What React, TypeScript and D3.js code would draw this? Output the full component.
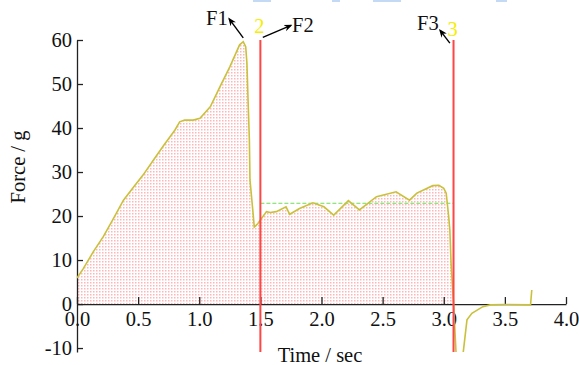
import React, { useRef, useEffect } from 'react';
import * as d3 from 'd3';

// force trace (time in sec, force in g)
const times = [0.0, 0.05, 0.134, 0.215, 0.3, 0.38, 0.46, 0.54, 0.62, 0.71, 0.8, 0.84, 0.88, 0.95, 1.006, 1.09, 1.17, 1.25, 1.33, 1.36, 1.38, 1.39, 1.4, 1.41, 1.415, 1.44, 1.45, 1.48, 1.5, 1.55, 1.58, 1.63, 1.71, 1.74, 1.82, 1.93, 2.02, 2.1, 2.22, 2.31, 2.45, 2.61, 2.72, 2.78, 2.91, 2.96, 3.0, 3.02, 3.04, 3.05, 3.06, 3.08, 3.1, 3.12, 3.15, 3.16, 3.19, 3.23, 3.32, 3.38, 3.5, 3.71, 3.72];
const forces = [5.9, 8.0, 11.9, 15.3, 19.5, 23.6, 26.5, 29.3, 32.5, 36.1, 39.5, 41.4, 41.8, 41.8, 42.2, 44.8, 49.4, 53.9, 58.9, 59.6, 58.5, 54.7, 45.7, 37.3, 28.2, 20.7, 17.5, 18.3, 19.1, 21, 20.8, 21, 22.1, 20.4, 21.7, 23.0, 22.1, 20.2, 23.5, 21.4, 24.4, 25.5, 23.6, 25.2, 26.9, 27, 26.3, 25.2, 20, 16.8, 9.2, 0.2, -10.8, -14, -14, -10.8, -3.6, -2.1, -0.6, -0.2, -0.1, -0.2, 3.2];

const xTicks = [0, 0.5, 1, 1.5, 2, 2.5, 3, 3.5, 4];
const yTicks = [-10, 0, 10, 20, 30, 40, 50, 60];

const markerTimes = [1.5, 3.08];
const markerLabels = ['2', '3'];
const meanForce = 22.9;

// F1 / F2 / F3 callouts: arrow tail (t0, f0) to head (t1, f1)
const callouts = [
  { label: 'F1', t0: 1.36, f0: 60.5, t1: 1.245, f1: 64.8 },
  { label: 'F2', t0: 1.52, f0: 60.6, t1: 1.75, f1: 63.3 },
  { label: 'F3', t0: 3.05, f0: 59.3, t1: 2.97, f1: 62.2 },
];

const blueBits = [[253, 271], [332, 340], [373, 401], [496, 507]];

export default function App() {
  const svgRef = useRef<SVGSVGElement>(null);

  useEffect(() => {
    const svg = d3.select(svgRef.current);
    svg.selectAll('*').remove();

    const x = d3.scaleLinear().domain([0, 4]).range([77, 566]);
    const y = d3.scaleLinear().domain([-10.9, 60]).range([352, 40]);
    const font = '"Liberation Serif", "Times New Roman", serif';
    const fs = 20.5;
    const data = times.map((t, i) => ({ t, f: forces[i] }));

    const defs = svg.append('defs');
    const pat = defs.append('pattern')
      .attr('id', 'dots')
      .attr('patternUnits', 'userSpaceOnUse')
      .attr('width', 3)
      .attr('height', 3);
    pat.append('rect').attr('x', 0).attr('y', 0).attr('width', 1.5).attr('height', 1.5)
      .attr('fill', '#ff5c5c').attr('opacity', 0.45);

    defs.append('clipPath').attr('id', 'plot')
      .append('rect').attr('x', 77).attr('y', 30).attr('width', 489).attr('height', 322);

    defs.append('marker')
      .attr('id', 'head')
      .attr('viewBox', '0 0 10 10')
      .attr('refX', 8).attr('refY', 5)
      .attr('markerWidth', 6).attr('markerHeight', 6)
      .attr('orient', 'auto')
      .append('path').attr('d', 'M0,1 L10,5 L0,9 L3,5 Z').attr('fill', '#000');

    // top strip remnants
    svg.selectAll('rect.bits').data(blueBits).enter().append('rect')
      .attr('x', d => d[0]).attr('y', 0).attr('width', d => d[1] - d[0]).attr('height', 2)
      .attr('fill', '#c4d9f3');

    // dotted area under the curve
    const filled = data.filter(d => d.t <= 3.08);
    const area = d3.area<{ t: number; f: number }>()
      .x(d => x(d.t))
      .y0(y(0))
      .y1(d => y(Math.max(d.f, 0)));
    svg.append('path').datum(filled).attr('d', area).attr('fill', 'url(#dots)');

    // mean level
    svg.append('line')
      .attr('x1', x(markerTimes[0])).attr('x2', x(markerTimes[1]))
      .attr('y1', y(meanForce)).attr('y2', y(meanForce))
      .attr('stroke', '#6fdc55').attr('stroke-width', 1).attr('stroke-dasharray', '4,2');

    // axes
    const yAxis = svg.append('g')
      .attr('transform', `translate(${x(0)},0)`)
      .call(d3.axisLeft(y).tickValues(yTicks).tickSize(-6).tickSizeOuter(0).tickPadding(5).tickFormat(d => String(d)));
    const xAxis = svg.append('g')
      .attr('transform', `translate(0,${y(0)})`)
      .call(d3.axisBottom(x).tickValues(xTicks).tickSize(-7).tickSizeOuter(0).tickPadding(7).tickFormat(d3.format('.1f')));
    [yAxis, xAxis].forEach(a => {
      a.selectAll('path, line').attr('stroke', '#222').attr('stroke-width', 1.3);
      a.selectAll('text').attr('font-family', font).attr('font-size', fs).attr('fill', '#111');
    });

    // force trace
    const line = d3.line<{ t: number; f: number }>().x(d => x(d.t)).y(d => y(d.f));
    svg.append('path').datum(data)
      .attr('clip-path', 'url(#plot)')
      .attr('d', line)
      .attr('fill', 'none')
      .attr('stroke', '#c9c13c')
      .attr('stroke-width', 1.6);

    // red markers
    svg.selectAll('line.marker').data(markerTimes).enter().append('line')
      .attr('x1', d => x(d)).attr('x2', d => x(d))
      .attr('y1', y(60)).attr('y2', y(-10.9))
      .attr('stroke', '#ff4646').attr('stroke-width', 2);
    svg.selectAll('text.marker').data(markerTimes).enter().append('text')
      .attr('x', d => x(d) - 1).attr('y', (d, i) => (i === 0 ? 33 : 36))
      .attr('text-anchor', 'middle')
      .attr('font-family', font).attr('font-size', fs).attr('fill', '#f5ee00')
      .text((d, i) => markerLabels[i]);

    // callouts
    callouts.forEach(c => {
      svg.append('line')
        .attr('x1', x(c.t0)).attr('y1', y(c.f0))
        .attr('x2', x(c.t1)).attr('y2', y(c.f1))
        .attr('stroke', '#000').attr('stroke-width', 1.4)
        .attr('marker-end', 'url(#head)');
    });
    const labelPos = [[206, 25], [292, 32], [417, 30]];
    svg.selectAll('text.call').data(callouts).enter().append('text')
      .attr('x', (d, i) => labelPos[i][0]).attr('y', (d, i) => labelPos[i][1])
      .attr('font-family', font).attr('font-size', fs).attr('fill', '#111')
      .text(d => d.label);

    // axis titles
    svg.append('text')
      .attr('x', 320).attr('y', 362)
      .attr('text-anchor', 'middle')
      .attr('font-family', font).attr('font-size', fs).attr('fill', '#111')
      .text('Time / sec');
    svg.append('text')
      .attr('transform', 'translate(25,167) rotate(-90)')
      .attr('text-anchor', 'middle')
      .attr('font-family', font).attr('font-size', fs).attr('fill', '#111')
      .text('Force / g');
  }, []);

  return (
    <svg
      ref={svgRef}
      width={579}
      height={365}
      style={{ position: 'absolute', left: 0, top: 0, background: '#fff' }}
    />
  );
}
